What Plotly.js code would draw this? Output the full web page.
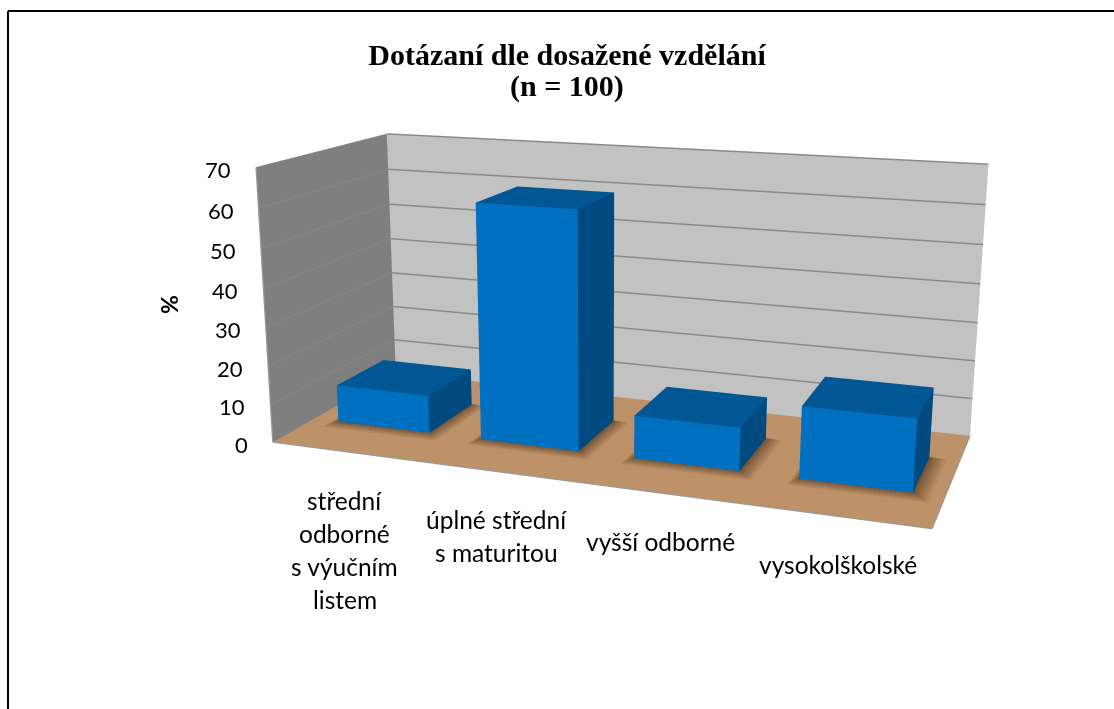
<!DOCTYPE html>
<html>
<head>
<meta charset="utf-8">
<script src="https://cdn.plot.ly/plotly-3.0.1.min.js"></script>
<style>
html,body{margin:0;padding:0;background:#fff;width:1114px;height:709px;overflow:hidden}
#chart{position:absolute;left:2px;top:-281px;width:1200px;height:1243px}
</style>
</head>
<body>
<div id="chart"></div>
<script>
const categories = ["střední<br>odborné<br>s výučním<br>listem", "úplné střední<br>s maturitou", "vyšší odborné", "vysokolškolské"];
const values = [10, 61, 11, 18];
const valueTicks = [0, 10, 20, 30, 40, 50, 60, 70];
const titleLines = ["Dotázaní dle dosažené vzdělání", "(n = 100)"];
const axisTitle = "%";

const FW = 1200, FH = 1243, FTOP = 281, FLEFT = 2;
const px = x => (x - FLEFT) / FW, py = y => 1 - (y + FTOP) / FH;

const BAR_HALF_W = 0.323, BAR_HALF_D = 0.194, Y_MID = 0.5, Z_MAX = 70;
const FRONT = '#0071C1', TOP = '#005794', SIDE = '#004A80';
const FONT = 'Lato, sans-serif';
const SERIF = '"Liberation Serif", serif';

function box(x0, x1, y0, y1, z0, z1) {
  return {
    x: [x0, x1, x1, x0, x0, x1, x1, x0],
    y: [y0, y0, y1, y1, y0, y0, y1, y1],
    z: [z0, z0, z0, z0, z1, z1, z1, z1]
  };
}
const cubeI = [0,0, 1,1, 4,4, 3,3, 0,0, 0,0];
const cubeJ = [1,5, 2,6, 5,6, 2,6, 3,7, 1,2];
const cubeK = [5,4, 6,5, 6,7, 6,7, 7,4, 2,3];
const faceCols = [FRONT,FRONT, SIDE,SIDE, TOP,TOP, FRONT,FRONT, SIDE,SIDE, TOP,TOP];
const flat = {ambient:1, diffuse:0, specular:0, fresnel:0, roughness:1};

const traces = [];

// soft shadows on the floor
[0.085, 0.072, 0.06, 0.049, 0.039, 0.03, 0.022, 0.015, 0.009, 0.004].forEach((m, n) => {
  values.forEach((v, i) => {
    const c = i + 0.5;
    const b = box(c - BAR_HALF_W - m*0.5, c + BAR_HALF_W + m*1.2, Y_MID - BAR_HALF_D - m*0.9, Y_MID + BAR_HALF_D, 0.02*(n+1), 0.02*(n+1));
    traces.push({type:'mesh3d', x:b.x.slice(0,4), y:b.y.slice(0,4), z:b.z.slice(0,4),
      i:[0,0], j:[1,2], k:[2,3], color:'#3a2410', opacity:0.085, lighting:flat, flatshading:true,
      hoverinfo:'skip', showscale:false});
  });
});

// bars
values.forEach((v, i) => {
  const c = i + 0.5;
  const b = box(c - BAR_HALF_W, c + BAR_HALF_W, Y_MID - BAR_HALF_D, Y_MID + BAR_HALF_D, 0, v);
  traces.push({type:'mesh3d', x:b.x, y:b.y, z:b.z, i:cubeI, j:cubeJ, k:cubeK,
    facecolor:faceCols, flatshading:true, lighting:flat, hoverinfo:'skip', showscale:false});
});

// gridlines on the two walls
function seg(list) {
  const o = {x:[], y:[], z:[]};
  list.forEach(s => { o.x.push(s[0][0], s[1][0], null); o.y.push(s[0][1], s[1][1], null); o.z.push(s[0][2], s[1][2], null); });
  return o;
}
const ticksAbove = valueTicks.filter(t => t > 0);
const XN = categories.length;
const backGrid = seg(ticksAbove.map(t => [[0,1,t],[XN,1,t]]));
const leftGrid = seg(ticksAbove.map(t => [[0,0,t],[0,1,t]]));
const rim = seg([[[0,0,0],[XN,0,0]], [[XN,0,0],[XN,1,0]], [[0,0,0],[0,0,Z_MAX]]]);
const lineT = (s, col, w) => ({type:'scatter3d', mode:'lines', x:s.x, y:s.y, z:s.z, line:{color:col, width:w}, hoverinfo:'skip', showlegend:false, connectgaps:false});
traces.push(lineT(backGrid, '#8a8a8a', 3));
traces.push(lineT(leftGrid, '#8e8e8e', 1));
traces.push(lineT(rim, '#999999', 2.5));

const annots = [];
valueTicks.forEach(t => annots.push({x:0, y:0, z:t, text:String(t), showarrow:false, xanchor:'right', yanchor:'middle',
  xshift:-23, yshift:-2, font:{family:FONT, size:22, color:'#000'}}));
categories.forEach((c, i) => {
  c.split('<br>').forEach((ln, j) => annots.push({x:i+0.5, y:0, z:0, text:ln, showarrow:false, xanchor:'center', yanchor:'top',
    yshift:-(32 + j*33), font:{family:FONT, size:24.5, color:'#000'}}));
});

const hiddenAxis = (range, bg) => ({range, autorange:false, showgrid:false, zeroline:false, showline:false, showticklabels:false, ticks:'',
  showspikes:false, title:{text:''}, showbackground:true, backgroundcolor:bg});

const ZOOM = 1.005;
const layout = {
  width:FW, height:FH, margin:{l:0,r:0,t:0,b:0,pad:0}, paper_bgcolor:'#fff', showlegend:false,
  title:{text:titleLines[0], xref:'paper', yref:'paper', x:px(567), y:py(54), xanchor:'center', yanchor:'middle',
    font:{family:SERIF, size:30, color:'#000', weight:'bold'}},
  scene:{
    domain:{x:[0,1], y:[0,1]},
    aspectmode:'manual', aspectratio:{x:1, y:0.4011, z:0.4237},
    camera:{eye:{x:0.7253*ZOOM, y:-2.0611*ZOOM, z:0.5407*ZOOM}, center:{x:-0.0184*ZOOM, y:-0.0458*ZOOM, z:-0.0441*ZOOM}, up:{x:0,y:0,z:1},
      projection:{type:'perspective'}},
    xaxis:hiddenAxis([0, XN], '#7F7F7F'),
    yaxis:hiddenAxis([0, 1], '#C2C2C2'),
    zaxis:hiddenAxis([0, Z_MAX], '#BE9268'),
    annotations:annots
  },
  annotations:[
    {xref:'paper', yref:'paper', x:px(567), y:py(86), text:'<b>'+titleLines[1]+'</b>', showarrow:false, xanchor:'center', yanchor:'middle',
      font:{family:SERIF, size:30, color:'#000'}},
    {xref:'paper', yref:'paper', x:px(169), y:py(305), text:'<b>'+axisTitle+'</b>', textangle:-90, showarrow:false, xanchor:'center', yanchor:'middle',
      font:{family:FONT, size:23, color:'#000'}}],
  shapes:[
    {type:'line', xref:'paper', yref:'paper', x0:px(8), x1:px(1200), y0:py(11), y1:py(11), line:{color:'#000', width:2}},
    {type:'line', xref:'paper', yref:'paper', x0:px(8), x1:px(8), y0:py(11), y1:py(720), line:{color:'#000', width:2}}
  ]
};
Plotly.newPlot('chart', traces, layout, {displayModeBar:false, responsive:false});
</script>
</body>
</html>
